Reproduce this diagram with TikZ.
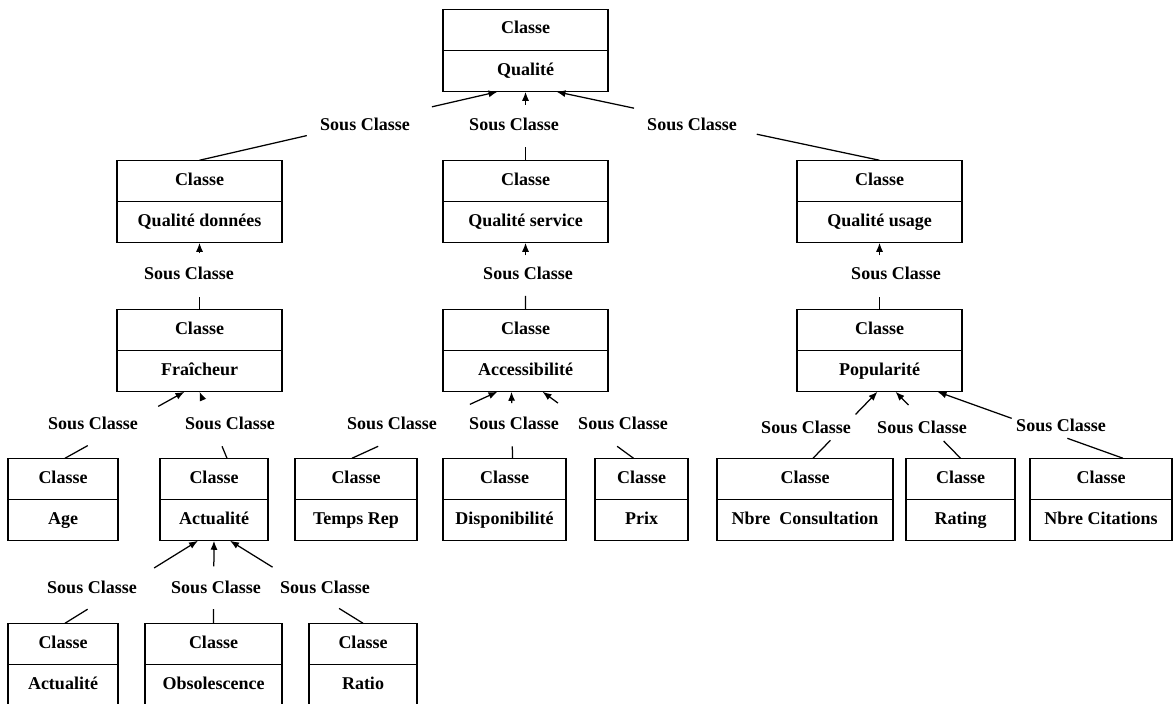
\documentclass[tikz,border=0pt]{standalone}
\usepackage{fontspec}
\setmainfont{Liberation Serif}
\usetikzlibrary{positioning,calc,arrows.meta}

\begin{document}
\begin{tikzpicture}[x=1pt,y=-1pt,line width=1.25pt,
  every node/.style={font=\bfseries\fontsize{18}{20}\selectfont},
  classhead/.style={draw,outer sep=0pt,inner sep=0pt,minimum height=41.5pt,text height=11pt,text depth=3pt},
  classbody/.style={draw,outer sep=0pt,inner sep=0pt,minimum height=41pt,text height=11pt,text depth=3pt},
  souslabel/.style={inner sep=0pt},
  sousarrow/.style={-{Latex[length=9pt,width=7pt]}}]
  \useasboundingbox (0,0) rectangle (1173,704);

  % classes
  \foreach \n/\x/\y/\w/\txt in {qualite/525.5/30/165/{Qualité},
      donnees/199.5/181/165/{Qualité données}, service/525.5/181/165/{Qualité service},
      usage/879.5/181/165/{Qualité usage},
      fraicheur/199.5/330/165/{Fraîcheur}, access/525.5/330/165/{Accessibilité},
      popul/879.5/330/165/{Popularité},
      age/63/479/110/{Age}, actual/214/479/108/{Actualité}, temps/356/479/122/{Temps Rep},
      dispo/504.5/479/123/{Disponibilité}, prix/641.5/479/93/{Prix},
      consult/805/479/176/{Nbre\ \ Consultation}, rating/960.5/479/109/{Rating},
      citations/1101/479/142/{Nbre Citations},
      actu2/63/644/110/{Actualité}, obsol/213.5/644/137/{Obsolescence}, ratio/363/644/108/{Ratio}}{
    \node[classhead,minimum width=\w pt] (\n-h) at (\x,\y) {Classe};
    \node[classbody,minimum width=\w pt,below=0pt of \n-h] (\n) {\txt};
  }

  % labels
  \foreach \n/\x/\y in {s1/365/124, s2/514/124, s3/692/124,
      s4/189/273, s5/528/273, s6/896/273,
      s7/93/423, s8/230/423, s9/392/423, s10/514/423, s11/623/423,
      s12/806/427, s13/922/427, s14/1061/425,
      s15/92/587, s16/216/587, s17/325/587}
    \node[souslabel] (\n) at (\x,\y) {Sous Classe};

  % sous classe links
  \foreach \ch/\cdx/\pa/\pdx/\ta/\tb in {donnees/0/qualite/-28/.36/.78,
      service/0/qualite/0/.19/.81, usage/0/qualite/31/.38/.76,
      fraicheur/0/donnees/0/.19/.84, access/0/service/0/.2/.81,
      popul/0/usage/0/.19/.81,
      age/2/fraicheur/-15/.19/.78, actual/13/fraicheur/0/.18/.88,
      temps/-4/access/-28/.18/.81, dispo/8/access/-14/.18/.83,
      prix/-8/access/17/.18/.83,
      consult/8/popul/-2/.27/.66, rating/0/popul/16/.26/.8,
      citations/22/popul/58/.3/.6,
      actu2/2/actual/-16/.17/.67, obsol/0/actual/0/.17/.69,
      ratio/0/actual/16/.18/.68}{
    \coordinate (c) at ([xshift=\cdx pt]\ch-h.north);
    \coordinate (p) at ([xshift=\pdx pt]\pa.south);
    \draw (c) -- ($(c)!\ta!(p)$);
    \draw[sousarrow] ($(c)!\tb!(p)$) -- (p);
  }
\end{tikzpicture}
\end{document}
